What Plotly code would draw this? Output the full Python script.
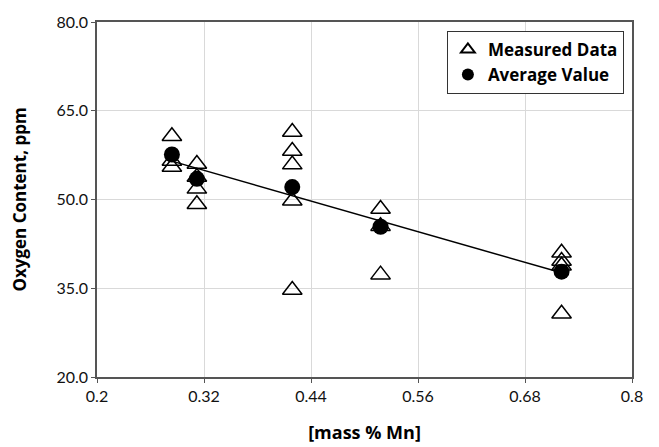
import numpy as np
import plotly.graph_objects as go

# Measured data (mass % Mn, oxygen ppm)
meas_mn = [0.284, 0.284, 0.284,
           0.312, 0.312, 0.312, 0.312,
           0.419, 0.419, 0.419, 0.419, 0.419,
           0.518, 0.518, 0.518,
           0.721, 0.721, 0.721, 0.721]
meas_o = [60.7, 56.5, 55.5,
          56.0, 53.8, 51.8, 49.2,
          61.4, 58.2, 55.9, 49.8, 34.7,
          48.4, 45.5, 37.3,
          41.0, 39.6, 38.8, 30.7]

# Average values
avg_mn = [0.284, 0.312, 0.419, 0.518, 0.721]
avg_o = [57.6, 53.5, 52.1, 45.4, 37.8]

x_ticks = [0.2, 0.32, 0.44, 0.56, 0.68, 0.8]
y_ticks = [20.0, 35.0, 50.0, 65.0, 80.0]

slope, intercept = np.polyfit(avg_mn, avg_o, 1)
line_x = [min(avg_mn), max(avg_mn)]
line_y = [slope * v + intercept for v in line_x]

FONT = "Lato"
BOLD = "Open Sans"

fig = go.Figure()
fig.add_trace(go.Scatter(
    x=line_x, y=line_y, mode="lines",
    line=dict(color="black", width=1.5), showlegend=False, hoverinfo="skip"))
fig.add_trace(go.Scatter(
    x=meas_mn, y=meas_o, mode="markers", name="<b>Measured Data</b>",
    marker=dict(symbol="triangle-up-open", size=17, color="black",
                line=dict(color="black", width=1.5))))
fig.add_trace(go.Scatter(
    x=avg_mn, y=avg_o, mode="markers", name="<b>Average Value</b>",
    marker=dict(symbol="circle", size=16, color="black")))

fig.update_layout(
    width=659, height=447,
    margin=dict(l=97, r=27, t=13, b=70),
    paper_bgcolor="white", plot_bgcolor="white",
    font=dict(family=FONT, color="black", size=15),
    legend=dict(x=0.654, y=0.975, xanchor="left", yanchor="top",
                bgcolor="white", bordercolor="#333333", borderwidth=1,
                font=dict(family=BOLD, size=17, color="black"),
                itemsizing="constant", tracegroupgap=0, itemwidth=30),
    xaxis=dict(range=[0.2, 0.8], tickvals=x_ticks,
               ticktext=[f"{v:g}" for v in x_ticks],
               showgrid=True, gridcolor="#d9d9d9", gridwidth=1,
               showline=True, linecolor="#555555", linewidth=1.5, mirror=True,
               ticks="outside", ticklen=4, tickcolor="#555555",
               zeroline=False, automargin=False,
               tickfont=dict(family=FONT, size=16, color="#111111"),
               title=dict(text="<b>[mass % Mn]</b>", standoff=22,
                          font=dict(family=BOLD, size=18))),
    yaxis=dict(range=[20, 80], tickvals=y_ticks,
               ticktext=[f"{v:.1f}" for v in y_ticks],
               showgrid=True, gridcolor="#d9d9d9", gridwidth=1,
               showline=True, linecolor="#555555", linewidth=1.5, mirror=True,
               ticks="outside", ticklen=4, tickcolor="#555555",
               zeroline=False,
               tickfont=dict(family=FONT, size=16, color="#111111"),
               title=dict(text="<b>Oxygen Content, ppm</b>", standoff=25,
                          font=dict(family=BOLD, size=17))),
)

fig.write_html("out.html")
